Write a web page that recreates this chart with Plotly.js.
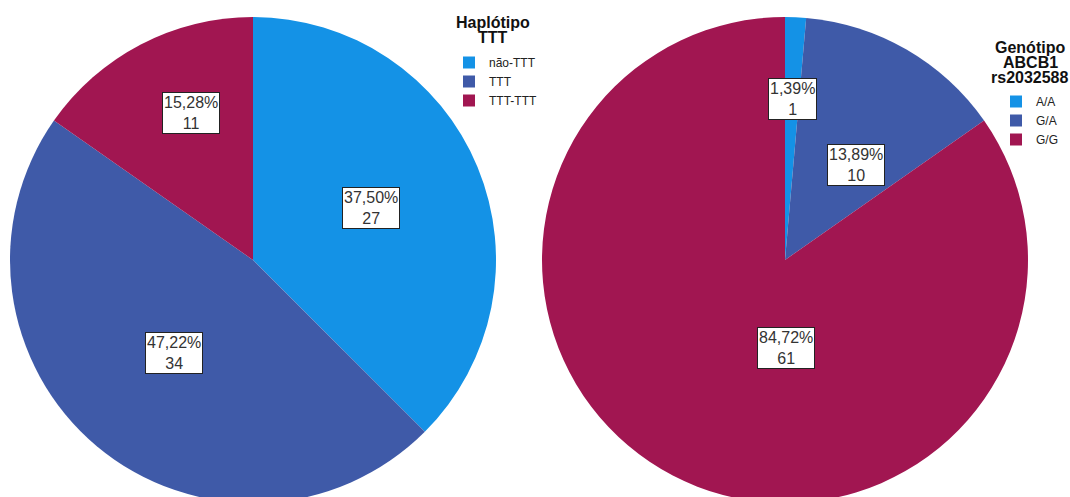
<!DOCTYPE html>
<html>
<head>
<meta charset="utf-8">
<script src="https://cdn.plot.ly/plotly-3.0.1.min.js"></script>
<style>
html,body{margin:0;padding:0;overflow:hidden;background:#fff;width:1070px;height:497px;}
#chart{width:1070px;height:520px;}
</style>
</head>
<body>
<div id="chart"></div>
<script>
// ---- data ----
var hapLabels = ['não-TTT', 'TTT', 'TTT-TTT'];
var hapValues = [27, 34, 11];
var genLabels = ['A/A', 'G/A', 'G/G'];
var genValues = [1, 10, 61];
var sliceColors = ['#1492E6', '#3F5AA8', '#A11651'];
var hapTitleLines = ['Haplótipo', 'TTT'];
var genTitleLines = ['Genótipo', 'ABCB1', 'rs2032588'];

// ---- layout constants ----
var W = 1070, H = 520;
var pieR = 243;
var leftCenter = [253, 260], rightCenter = [785, 260];
// label box centre offsets, in units of pie radius (dx right, dy down)
var hapLabelOffsets = [[0.486, -0.214], [-0.326, 0.383], [-0.254, -0.604]];
var genLabelOffsets = [[0.031, -0.662], [0.293, -0.389], [0.004, 0.362]];
var fontFam = 'Liberation Sans, Arial, sans-serif';

function domainFor(c) {
  return {
    x: [(c[0] - pieR) / W, (c[0] + pieR) / W],
    y: [1 - (c[1] + pieR) / H, 1 - (c[1] - pieR) / H]
  };
}
function fmtPct(v, total) {
  return (v / total * 100).toFixed(2).replace('.', ',') + '%';
}
function labelAnnotations(values, center, offsets) {
  var total = values.reduce(function (a, b) { return a + b; }, 0);
  return values.map(function (v, i) {
    return {
      xref: 'paper', yref: 'paper',
      x: (center[0] + offsets[i][0] * pieR) / W,
      y: 1 - (center[1] + offsets[i][1] * pieR) / H,
      xanchor: 'center', yanchor: 'middle',
      text: fmtPct(v, total) + '<br>' + v,
      showarrow: false,
      bgcolor: '#ffffff',
      bordercolor: '#222222',
      borderwidth: 1,
      borderpad: 1,
      font: {family: fontFam, size: 16, color: '#333333'}
    };
  });
}
function titleAnnotations(lines, cx, topY, step) {
  return lines.map(function (t, i) {
    return {
      xref: 'paper', yref: 'paper',
      x: cx / W, y: 1 - (topY + i * step) / H,
      xanchor: 'center', yanchor: 'top',
      text: '<b>' + t + '</b>', showarrow: false,
      font: {family: fontFam, size: 16, color: '#111111'}
    };
  });
}

var pieCommon = {
  type: 'pie',
  sort: false,
  direction: 'clockwise',
  rotation: 0,
  textinfo: 'none',
  hoverinfo: 'label+value+percent',
  marker: {colors: sliceColors, line: {width: 0}}
};

var trace1 = Object.assign({}, pieCommon, {
  labels: hapLabels, values: hapValues,
  domain: domainFor(leftCenter),
  legend: 'legend'
});
var trace2 = Object.assign({}, pieCommon, {
  labels: genLabels, values: genValues,
  domain: domainFor(rightCenter),
  legend: 'legend2'
});

var legendFont = {family: fontFam, size: 12, color: '#222222'};

var layout = {
  width: W, height: H,
  margin: {l: 0, r: 0, t: 0, b: 0, autoexpand: false},
  paper_bgcolor: '#ffffff',
  showlegend: true,
  legend: {
    x: 449 / W, y: 1 - 48 / H, xanchor: 'left', yanchor: 'top',
    bgcolor: 'rgba(0,0,0,0)', font: legendFont, tracegroupgap: 0
  },
  legend2: {
    x: 996 / W, y: 1 - 87 / H, xanchor: 'left', yanchor: 'top',
    bgcolor: 'rgba(0,0,0,0)', font: legendFont, tracegroupgap: 0
  },
  annotations: labelAnnotations(hapValues, leftCenter, hapLabelOffsets)
    .concat(labelAnnotations(genValues, rightCenter, genLabelOffsets))
    .concat(titleAnnotations(hapTitleLines, 493, 12, 15))
    .concat(titleAnnotations(genTitleLines, 1030, 37, 15))
};

Plotly.newPlot('chart', [trace1, trace2], layout, {displayModeBar: false, staticPlot: true});
</script>
</body>
</html>
